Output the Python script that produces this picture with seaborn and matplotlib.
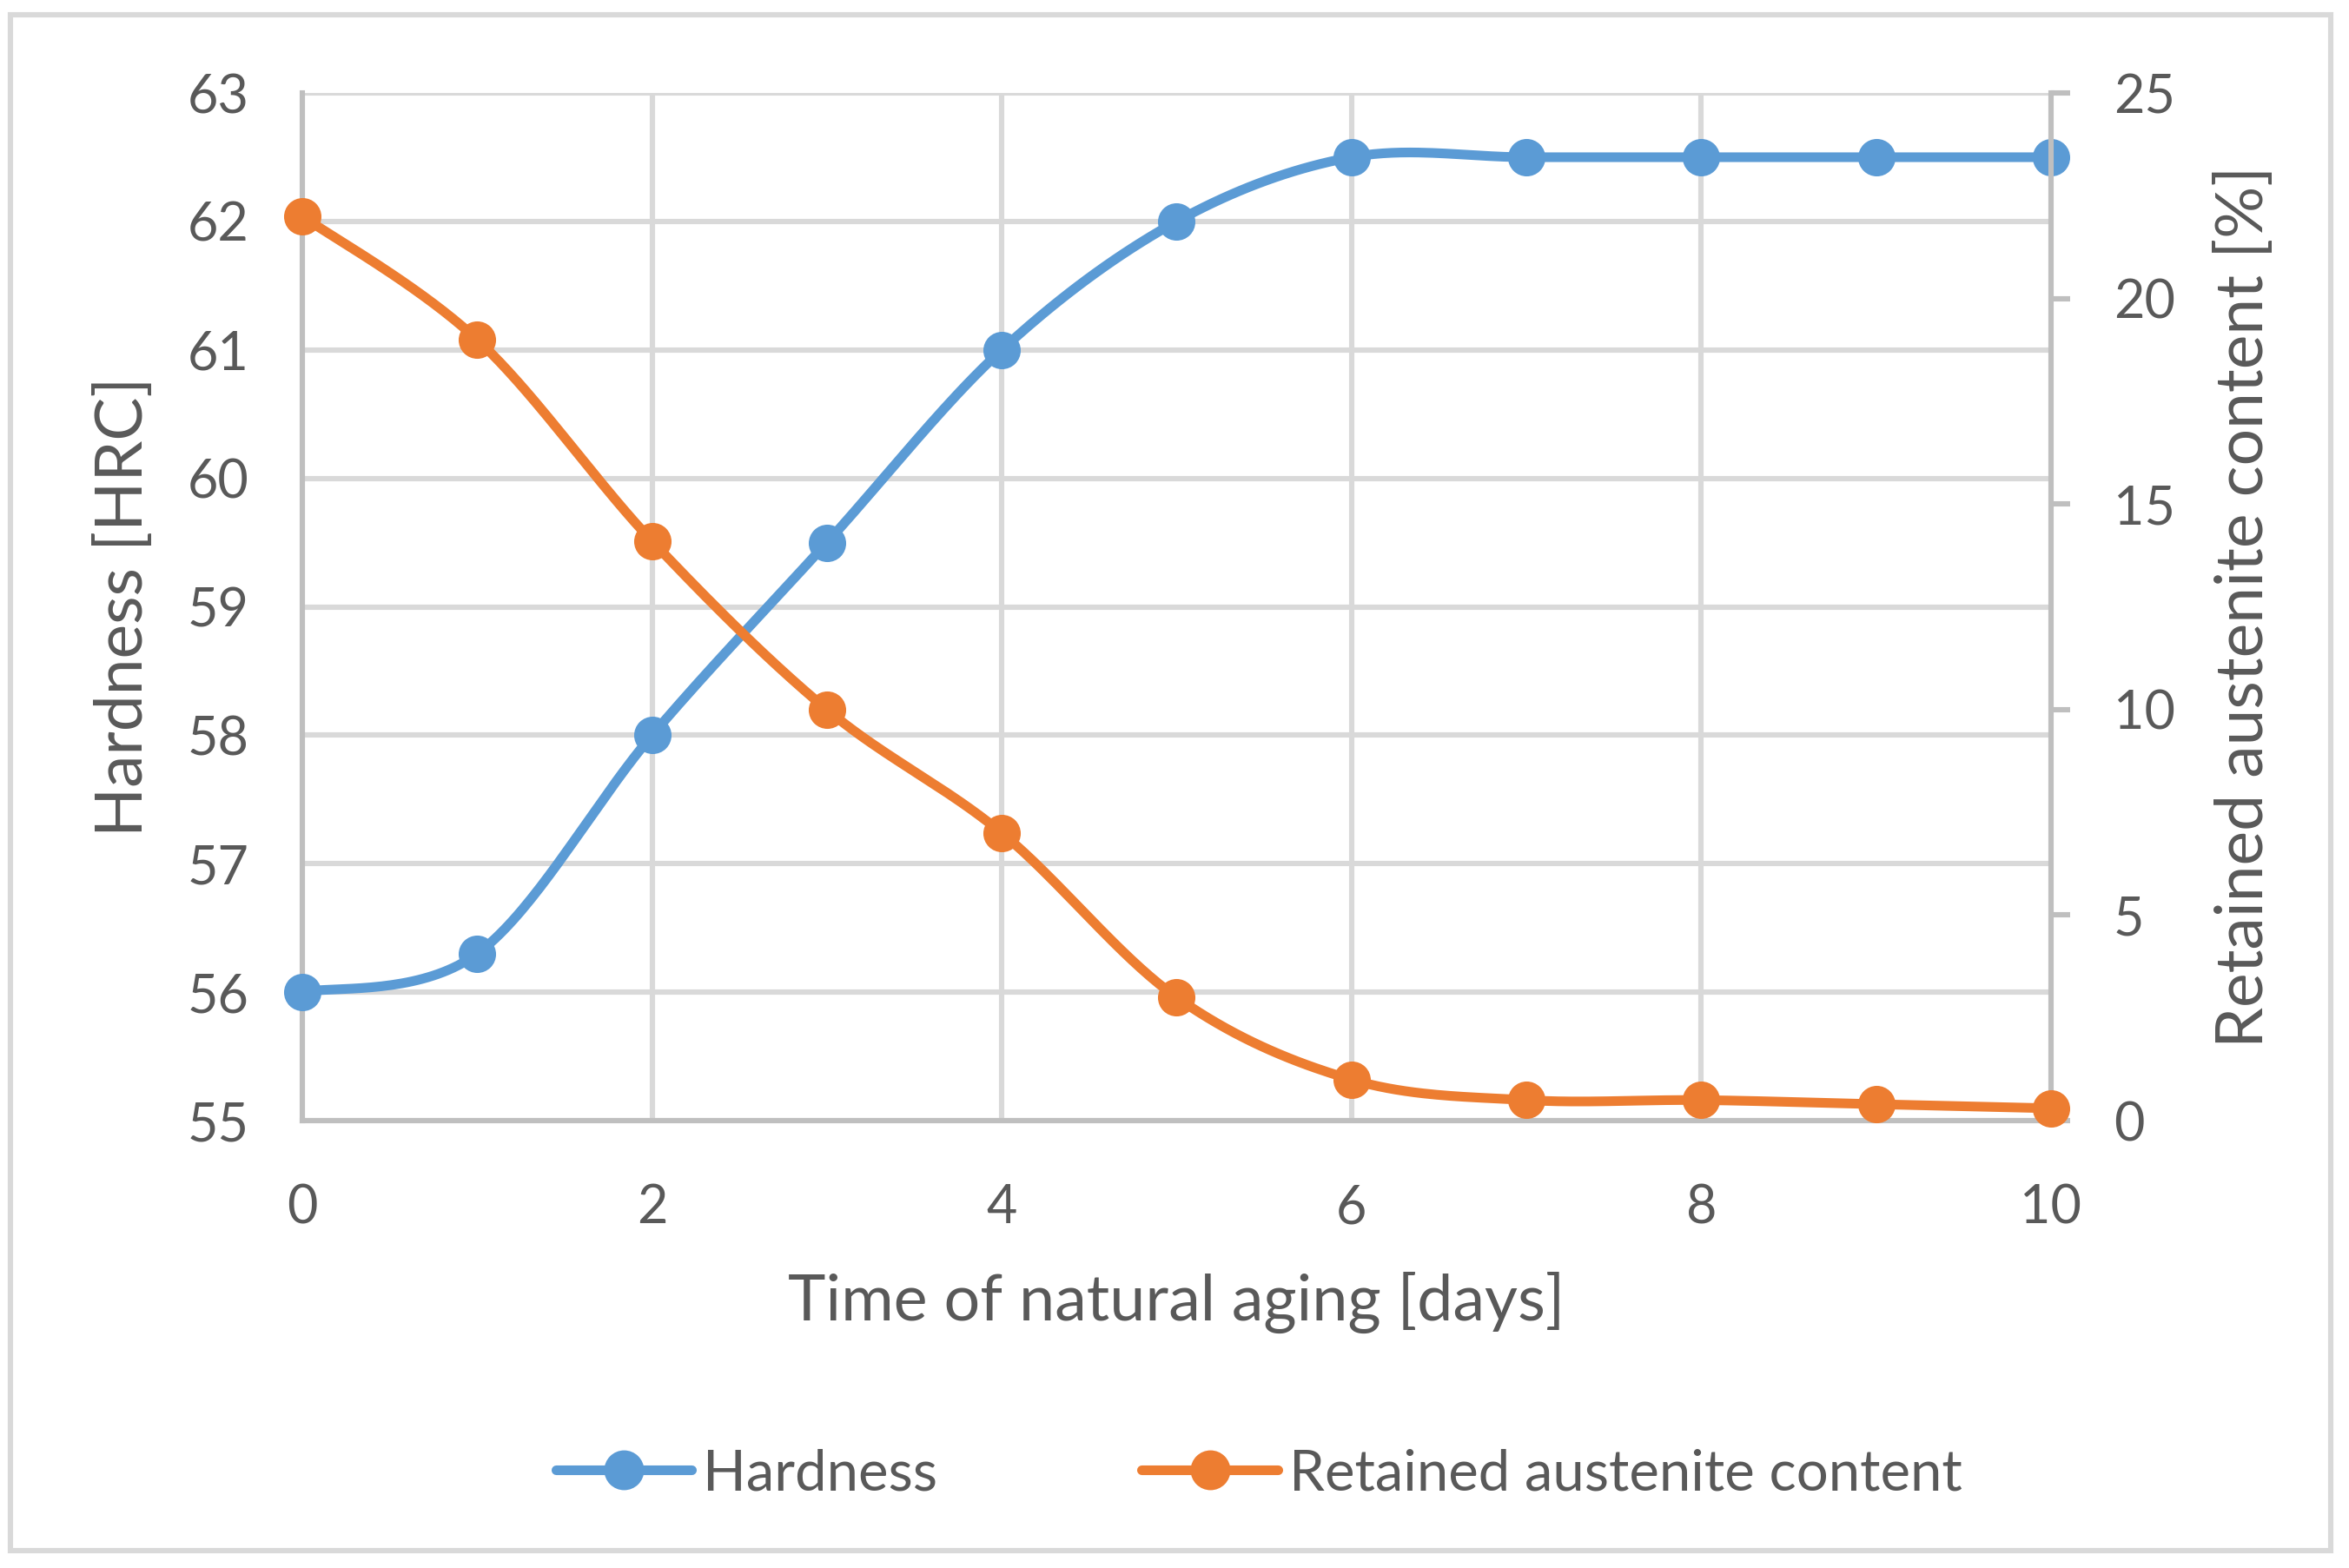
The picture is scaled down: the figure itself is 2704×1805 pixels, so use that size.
import numpy as np
import pandas as pd
import matplotlib
matplotlib.use("Agg")
import matplotlib.pyplot as plt
import seaborn as sns
from matplotlib.lines import Line2D
from matplotlib.patches import Rectangle

days = [0, 1, 2, 3, 4, 5, 6, 7, 8, 9, 10]
hardness = [56.0, 56.3, 58.0, 59.5, 61.0, 62.0, 62.5, 62.5, 62.5, 62.5, 62.5]
austenite = [22.0, 19.0, 14.1, 10.0, 7.0, 3.0, 1.0, 0.5, 0.5, 0.4, 0.3]

blue = "#5b9bd5"
orange = "#ed7d31"
txt = "#595959"
grid = "#d9d9d9"
spine = "#bfbfbf"


def smooth(x, y, n=40):
    # excel-like smoothed line (cardinal bezier through the points)
    x = np.asarray(x, float)
    y = np.asarray(y, float)
    px = np.concatenate([[x[0]], x, [x[-1]]])
    py = np.concatenate([[y[0]], y, [y[-1]]])
    xs, ys = [], []
    for i in range(1, len(px) - 2):
        p0 = np.array([px[i], py[i]])
        p3 = np.array([px[i + 1], py[i + 1]])
        p1 = p0 + (np.array([px[i + 1], py[i + 1]]) - np.array([px[i - 1], py[i - 1]])) / 6
        p2 = p3 - (np.array([px[i + 2], py[i + 2]]) - np.array([px[i], py[i]])) / 6
        t = np.linspace(0, 1, n)[:, None]
        pts = (1 - t) ** 3 * p0 + 3 * (1 - t) ** 2 * t * p1 + 3 * (1 - t) * t ** 2 * p2 + t ** 3 * p3
        xs.extend(pts[:, 0])
        ys.extend(pts[:, 1])
    return pd.DataFrame({"x": xs, "y": ys})


sns.set_theme(style="white")
plt.rcParams["font.family"] = ["Lato", "DejaVu Sans"]

fig = plt.figure(figsize=(13.52, 9.025), dpi=200)
ax = fig.add_axes([0.1287, 0.2853, 0.7444, 0.6554])
ax2 = ax.twinx()

df = pd.DataFrame({"days": days, "hardness": hardness, "austenite": austenite})
h_s = smooth(days, hardness)
a_s = smooth(days, austenite)

lw = 4.0
ms = 15.5
sns.lineplot(data=h_s, x="x", y="y", ax=ax, color=blue, lw=lw, sort=False, zorder=3)
sns.scatterplot(data=df, x="days", y="hardness", ax=ax, color=blue, s=ms ** 2, edgecolor=blue,
                linewidth=0, zorder=4, clip_on=False)
sns.lineplot(data=a_s, x="x", y="y", ax=ax2, color=orange, lw=lw, sort=False, zorder=3)
sns.scatterplot(data=df, x="days", y="austenite", ax=ax2, color=orange, s=ms ** 2, edgecolor=orange,
                linewidth=0, zorder=4, clip_on=False)

ax.set_xlim(0, 10)
ax.set_ylim(55, 63)
ax2.set_ylim(0, 25)
ax.set_xticks(range(0, 11, 2))
ax.set_yticks(range(55, 64))
ax2.set_yticks(range(0, 26, 5))

ax.grid(True, color=grid, lw=2.2)
ax.set_axisbelow(True)
ax2.grid(False)
for a in (ax, ax2):
    for s in a.spines.values():
        s.set_visible(False)
for side in ("left", "bottom"):
    ax.spines[side].set_visible(True)
    ax.spines[side].set_color(spine)
    ax.spines[side].set_linewidth(2.2)
ax2.spines["right"].set_visible(True)
ax2.spines["right"].set_color(spine)
ax2.spines["right"].set_linewidth(2.2)

ax.tick_params(axis="y", length=0, labelsize=22, labelcolor=txt, pad=22)
ax.tick_params(axis="x", length=0, labelsize=22, labelcolor=txt, pad=26)
ax2.tick_params(axis="y", length=8, width=2.2, color=spine, labelsize=22, labelcolor=txt, pad=18,
                direction="out")

ax.set_xlabel("Time of natural aging [days]", fontsize=26.5, color=txt, labelpad=16)
ax.set_ylabel("Hardness [HRC]", fontsize=27, color=txt, labelpad=14)
ax2.set_ylabel("Retained austenite content [%]", fontsize=27, color=txt, labelpad=16)

handles = [
    Line2D([], [], color=blue, lw=lw, marker="o", markersize=ms),
    Line2D([], [], color=orange, lw=lw, marker="o", markersize=ms),
]
fig.legend(handles, ["Hardness", "Retained austenite content"], loc="center",
           bbox_to_anchor=(0.536, 0.060), ncol=2, frameon=False, fontsize=23.5,
           labelcolor=txt, handlelength=2.4, handletextpad=0.2, columnspacing=3.6)

fig.patches.append(Rectangle((0.0045, 0.011), 0.9877, 0.9795, transform=fig.transFigure,
                             fill=False, edgecolor=grid, lw=2.2))

fig.savefig("out.png", dpi=200, facecolor="white")
